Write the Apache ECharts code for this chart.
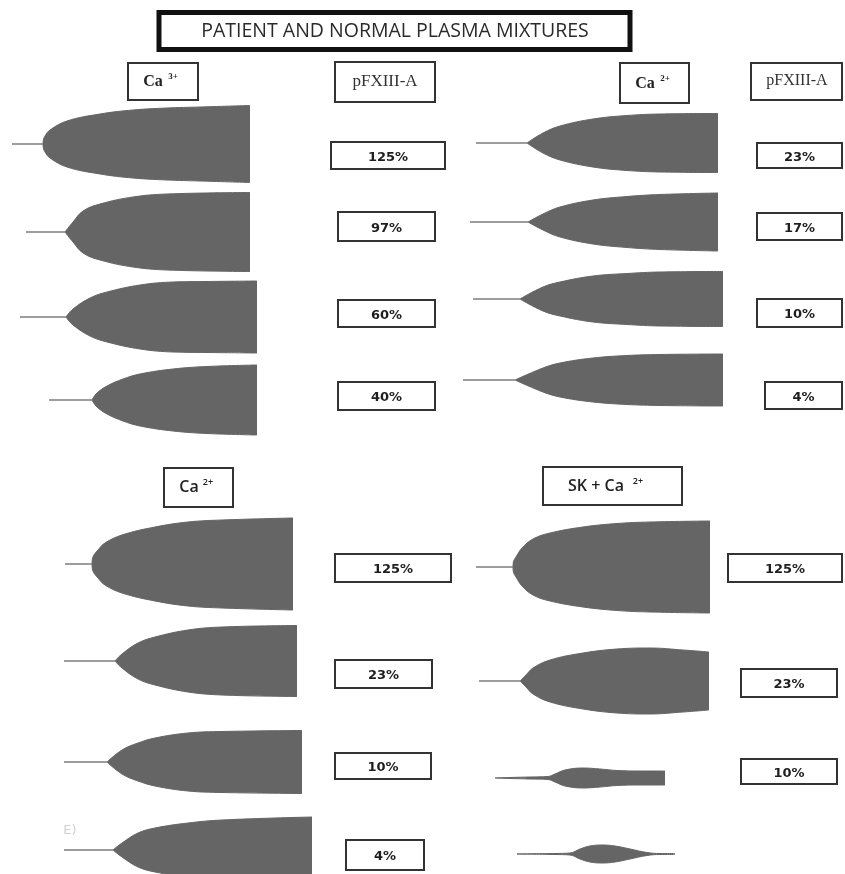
<!DOCTYPE html>
<html><head><meta charset="utf-8">
<script src="https://cdn.jsdelivr.net/npm/echarts@6/dist/echarts.min.js"></script>
<style>html,body{margin:0;padding:0;background:#fff}#c{width:845px;height:874px}</style>
</head><body><div id="c"></div>
<script>
// ---- DATA: ROTEM-like traces, [time (min), amplitude (mm)] ----
const TL_125 = [[0,0],[7.75,0],[7.85,8],[8.25,16],[9.5,28],[13.75,46],[22,60],[30.25,68],[38.75,72],[47,74],[59.5,77]];
const TL_97  = [[0,0],[9.75,0],[11.75,20],[14.25,42],[18.5,56],[26.75,70],[35.25,76],[56,79]];
const TL_60  = [[0,0],[11.5,0],[13.25,16],[17.5,38],[21.75,50],[30,64],[38.25,70],[46.75,71],[59.25,72]];
const TL_40  = [[0,0],[10.75,0],[12,14],[14.5,28],[18.5,42],[22.75,52],[31,62],[39.5,67],[52,70]];

const TR_23 = [[0,0],[12.75,0],[16.75,20],[21,34],[29.25,48],[37.75,55],[46,58],[60.5,59]];
const TR_17 = [[0,0],[14.5,0],[18.25,16],[22.5,30],[30.75,44],[39.25,51],[47.5,55],[62,58]];
const TR_10 = [[0,0],[11.75,0],[17.5,24],[21.75,34],[30,46],[38.5,51],[46.75,54],[62.5,55]];
const TR_4  = [[0,0],[13,0],[20,24],[24.25,34],[32.5,44],[41,49],[49.25,51],[65,52]];

const BL_125 = [[0,0],[6.75,0],[6.9,12],[8.25,28],[10,42],[14.25,58],[22.5,74],[30.75,84],[39.25,88],[57,92]];
const BL_23  = [[0,0],[12.75,0],[14.5,14],[18.5,36],[22.75,48],[31,62],[39.5,68],[58.25,71]];
const BL_10  = [[0,0],[10.75,0],[14.5,24],[18.5,38],[22.75,48],[31,58],[39.5,61],[59.5,63]];
const BL_4   = [[0,0],[12.25,0],[14.5,14],[18.5,34],[22.75,44],[31,54],[39.5,60],[62,66]];

const BR_125 = [[0,0],[9.25,0],[9.35,10],[10,20],[11.5,38],[14.25,56],[18.5,68],[26.75,80],[35.25,87],[43.5,90],[58.5,92]];
const BR_23  = [[0,0],[10.25,0],[11.75,12],[13.5,26],[17.75,42],[26,56],[34.5,64],[42.75,66],[51,62],[57.5,58]];
const BR_10  = [[0,0],[3.75,1],[8.75,2],[13.25,3],[15,8],[17.5,16],[22,20],[26.25,18],[30.5,15],[36.25,14],[42.5,14]];
const BR_4   = [[0,0],[9.5,1],[13.25,2],[15.75,10],[18.25,16],[21.25,18],[24.5,16],[28.25,10],[32.5,3],[35.75,1],[39.5,1]];

// ---- TEXT ----
const titleText = 'PATIENT AND NORMAL PLASMA MIXTURES';
const tlLabels = ['125%','97%','60%','40%'];
const trLabels = ['23%','17%','10%','4%'];
const blLabels = ['125%','23%','10%','4%'];
const brLabels = ['125%','23%','10%'];

// ---- LAYOUT (pixels) ----
const W = 845, H = 874;
const PX_PER_MIN = 4;
const traces = [
  [TL_125, 12, 144], [TL_97, 26, 232], [TL_60, 20, 317], [TL_40, 49, 400],
  [TR_23, 476, 143], [TR_17, 470, 222], [TR_10, 473, 299], [TR_4, 463, 380],
  [BL_125, 65, 564], [BL_23, 64, 661], [BL_10, 64, 762], [BL_4, 64, 850],
  [BR_125, 476, 567], [BR_23, 479, 681], [BR_10, 495, 778], [BR_4, 517, 854]
];
const labelBoxes = [
  [tlLabels, [[331,142,114,27],[338,212,97,29],[338,300,97,27],[338,382,97,28]]],
  [trLabels, [[757,143,85,25],[757,213,85,27],[757,299,85,28],[765,382,77,27]]],
  [blLabels, [[335,554,116,28],[335,660,97,28],[335,753,96,26],[346,840,78,30]]],
  [brLabels, [[728,554,114,28],[741,669,96,28],[741,759,96,25]]]
];

const FILL = '#656565';
const grid = [], xAxis = [], yAxis = [], series = [];
traces.forEach(function (tr, i) {
  const d = tr[0], x0 = tr[1], cy = tr[2];
  const tEnd = d[d.length - 1][0];
  const below = Math.min(50, H - cy);   // keep grid inside the canvas (1 px per mm)
  grid.push({left: x0, top: cy - 50, width: tEnd * PX_PER_MIN, height: 50 + below});
  xAxis.push({type: 'value', gridIndex: i, min: 0, max: tEnd, show: false});
  yAxis.push({type: 'value', gridIndex: i, min: -below, max: 50, show: false});
  let k = d.findIndex(function (p) { return p[1] > 0; });
  let shape = d;
  if (k >= 2) {
    series.push({type: 'line', xAxisIndex: i, yAxisIndex: i, data: d.slice(0, k),
      showSymbol: false, silent: true, clip: false, z: 3,
      lineStyle: {color: '#7d7d7d', width: 1.7}});
    shape = d.slice(k - 1);
  }
  [1, -1].forEach(function (sgn) {
    series.push({type: 'line', xAxisIndex: i, yAxisIndex: i,
      data: shape.map(function (p) { return [p[0], sgn * p[1] / 2]; }),
      smooth: 0.4, showSymbol: false, silent: true, clip: false, z: 2,
      lineStyle: {color: FILL, width: 1},
      areaStyle: {color: FILL, opacity: 1, origin: 0}});
  });
});

const g = [];
function box(x, y, w, h, lw, stroke) {
  g.push({type: 'rect', z: 10, shape: {x: x, y: y, width: w, height: h},
    style: {fill: '#fff', stroke: stroke || '#333', lineWidth: lw || 2}});
}
function txt(x, y, s, font, fill, align) {
  g.push({type: 'text', z: 11, x: x, y: y,
    style: {text: s, font: font, fill: fill || '#222',
      align: align || 'center', verticalAlign: 'middle',
      textAlign: align || 'center', textVerticalAlign: 'middle'}});
}
// title
box(159, 12.5, 471, 37, 5, '#111');
txt(395, 31, titleText, '19.5px "Open Sans"', '#2a2a2a');
// panel headers
box(128, 63, 70, 37); txt(153, 82, 'Ca', 'bold 16px "Liberation Serif"'); txt(173, 77, '3+', 'bold 9px "Liberation Serif"');
box(335, 62, 100, 40); txt(385, 82, 'pFXIII-A', '17px "Liberation Serif"', '#333');
box(620, 63, 69, 40); txt(645, 84, 'Ca', 'bold 16px "Liberation Serif"'); txt(665, 79, '2+', 'bold 9px "Liberation Serif"');
box(751, 63, 91, 37); txt(797, 81, 'pFXIII-A', '16px "Liberation Serif"', '#333');
box(164, 468, 69, 39); txt(189, 487, 'Ca', '600 16px "Open Sans"'); txt(208, 482, '2+', '600 9px "Open Sans"');
box(543, 467, 139, 38); txt(596, 486, 'SK + Ca', '600 16px "Open Sans"'); txt(638, 481, '2+', '600 9px "Open Sans"');
// percentage boxes
labelBoxes.forEach(function (lb) {
  lb[1].forEach(function (b, j) {
    box(b[0], b[1], b[2], b[3]);
    txt(b[0] + b[2] / 2, b[1] + b[3] / 2 + 2, lb[0][j], 'bold 13px "DejaVu Sans"', '#1e1e1e');
  });
});
txt(70, 831, 'E)', '13px "DejaVu Sans"', '#d0d0d0');

const chart = echarts.init(document.getElementById('c'));
chart.setOption({animation: false, backgroundColor: '#fff', grid: grid, xAxis: xAxis, yAxis: yAxis, series: series, graphic: {elements: g}});
</script></body></html>
